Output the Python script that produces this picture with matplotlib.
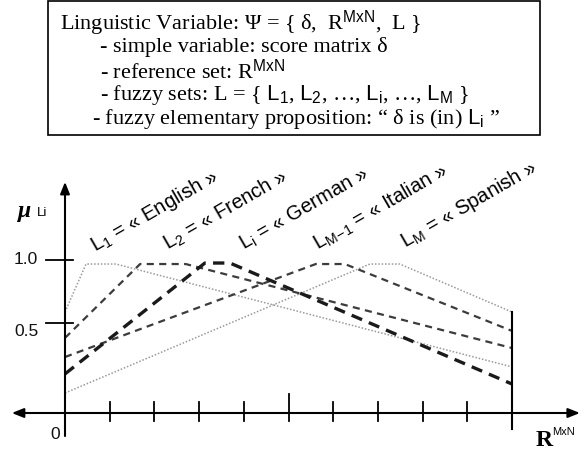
import numpy as np
import matplotlib
matplotlib.use("Agg")
import matplotlib.pyplot as plt
from matplotlib.patches import Rectangle

plt.rcParams['mathtext.fontset'] = 'custom'
plt.rcParams['mathtext.rm'] = 'Liberation Serif'
plt.rcParams['mathtext.it'] = 'Liberation Serif:italic'
plt.rcParams['mathtext.bf'] = 'Liberation Serif:bold'
plt.rcParams['mathtext.sf'] = 'Liberation Sans'

# ---------------- data ----------------
languages = ["English", "French", "German", "Italian", "Spanish"]
set_names = [r"$\mathsf{L}_{\mathsf{1}}$", r"$\mathsf{L}_{\mathsf{2}}$", r"$\mathsf{L}_{\mathsf{i}}$",
             r"$\mathsf{L}_{\mathsf{M\!-\!1}}$", r"$\mathsf{L}_{\mathsf{M}}$"]
# breakpoints of each membership function along R^MxN (0..10)
x_english = [0.0, 0.47, 1.14, 10.0]
y_english = [0.587, 0.968, 0.968, 0.256]
x_french = [0.0, 1.68, 2.70, 10.0]
y_french = [0.417, 0.968, 0.968, 0.361]
x_german = [0.0, 3.13, 3.69, 10.0]
y_german = [0.217, 0.976, 0.976, 0.161]
x_italian = [0.0, 5.61, 6.26, 10.0]
y_italian = [0.311, 0.968, 0.968, 0.456]
x_spanish = [0.0, 6.82, 7.49, 10.0]
y_spanish = [0.111, 0.968, 0.968, 0.587]

x_ticks = [1, 2, 3, 4, 5, 6, 7, 8, 9]
y_tick_values = [0.5, 1.0]
y_tick_labels = ["0.5", "1.0"]

box_lines = [
    r"Linguistic Variable: Ψ = { δ,  R$^{\mathsf{MxN}}$,  L }",
    r"- simple variable: score matrix δ",
    r"- reference set: R$^{\mathsf{MxN}}$",
    r"- fuzzy sets: L = { $\mathsf{L}_{\mathsf{1}}$, $\mathsf{L}_{\mathsf{2}}$, …, $\mathsf{L}_{\mathsf{i}}$, …, $\mathsf{L}_{\mathsf{M}}$ }",
    r"- fuzzy elementary proposition: “ δ is (in) $\mathsf{L}_{\mathsf{i}}$ ”",
]

# ---------------- figure ----------------
W, H = 585, 452
fig = plt.figure(figsize=(W / 100, H / 100), dpi=100)
ax = fig.add_axes([0, 0, 1, 1])
ax.axis('off')

def fwd(v):
    v = np.asarray(v, dtype=float)
    return np.where(v <= 0.5, 180.0 * v, 90.0 + 126.0 * (v - 0.5))

def inv(p):
    p = np.asarray(p, dtype=float)
    return np.where(p <= 90.0, p / 180.0, 0.5 + (p - 90.0) / 126.0)

ax.set_yscale('function', functions=(fwd, inv))
X0, DX = 65.0, 44.7
ax.set_xlim(-X0 / DX, (W - X0) / DX)
ax.set_ylim(float(inv(-(H - 414))), float(inv(414)))

def fig_px(x, y):
    return (x / W, 1 - y / H)

# membership functions
light = dict(color='#9a9a9a', lw=1.1, linestyle=(0, (1, 1.2)))
medium = dict(color='#3c3c3c', lw=1.6, linestyle=(0, (3.2, 2.4)))
heavy = dict(color='#1a1a1a', lw=2.4, linestyle=(0, (3.4, 2.2)))
ax.plot(x_english, y_english, **light)
ax.plot(x_spanish, y_spanish, **light)
ax.plot(x_french, y_french, **medium)
ax.plot(x_italian, y_italian, **medium)
ax.plot(x_german, y_german, **heavy)

# axes
ax.annotate('', xy=(11.52, 0), xytext=(-1.19, 0),
            arrowprops=dict(arrowstyle='<|-|>,head_length=0.7,head_width=0.28',
                            lw=1.5, color='black', shrinkA=0, shrinkB=0))
ax.annotate('', xy=(0, 1.62), xytext=(0, -0.128),
            arrowprops=dict(arrowstyle='-|>,head_length=0.7,head_width=0.28',
                            lw=1.5, color='black', shrinkA=0, shrinkB=0))
for t in x_ticks:
    top = 0.106 if t == 5 else 0.061
    ax.plot([t, t], [-0.044, top], color='black', lw=1.3)
ax.plot([10, 10], [-0.089, 0.587], color='black', lw=1.5)
for v, lab in zip(y_tick_values, y_tick_labels):
    ax.plot([-0.425, 0.179], [v, v], color='black', lw=1.3)
    dy = -7 if v == 0.5 else 1
    ax.annotate(lab, xy=(-0.6, v), xytext=(0, dy), textcoords='offset pixels',
                ha='right', va='center', fontsize=12.5, family='Liberation Sans',
                color='#111111')
fig.text(*fig_px(55, 435), "0", ha='center', va='center', fontsize=12.5,
         family='Liberation Sans', color='#111111')

# axis titles
fig.text(*fig_px(18, 212), "μ", ha='left', va='center', fontsize=17,
         family='Liberation Serif', weight='bold', style='italic')
fig.text(*fig_px(37, 213), "Li", ha='left', va='center', fontsize=9.5,
         family='Liberation Sans')
fig.text(*fig_px(536, 446), "R", ha='left', va='baseline', fontsize=17,
         family='Liberation Serif', weight='bold')
fig.text(*fig_px(552, 435), "MxN", ha='left', va='baseline', fontsize=8,
         family='Liberation Sans')

# rotated set labels
label_px = [(95, 252), (167, 250), (243, 250), (318, 250), (405, 248)]
for (px, py), nm, lang in zip(label_px, set_names, languages):
    fig.text(*fig_px(px, py), f"{nm} = « {lang} »", rotation=30,
             rotation_mode='anchor', ha='left', va='baseline',
             fontsize=14.5, family='Liberation Sans')

# description box
ax.add_patch(Rectangle(fig_px(48, 136), (540 - 48) / W, (136 - 2) / H,
                       transform=fig.transFigure, fill=False, lw=1.2,
                       edgecolor='black'))
line_x = [60, 100, 100, 100, 92]
line_y = [23, 47, 71, 95, 119]
for s, lx, ly in zip(box_lines, line_x, line_y):
    fig.text(*fig_px(lx, ly), s, ha='left', va='center', fontsize=16,
             family='Liberation Serif')

fig.savefig("out.png", dpi=100)
